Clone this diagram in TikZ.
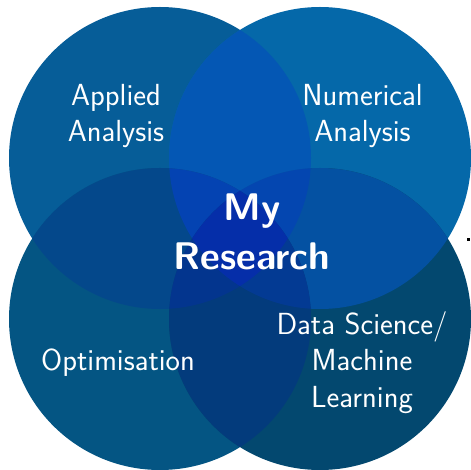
\documentclass[tikz,border=0pt]{standalone}
\renewcommand{\familydefault}{\sfdefault}
\definecolor{cA}{HTML}{065D98}
\definecolor{cB}{HTML}{0568A9}
\definecolor{cC}{HTML}{045583}
\definecolor{cD}{HTML}{03486F}
\definecolor{cAB}{HTML}{0457B4}
\definecolor{cAC}{HTML}{04488B}
\definecolor{cBD}{HTML}{0451A2}
\definecolor{cCD}{HTML}{033B7C}
\definecolor{cABC}{HTML}{0443B2}
\definecolor{cABD}{HTML}{0446B0}
\definecolor{cACD}{HTML}{03358E}
\definecolor{cBCD}{HTML}{033A93}
\definecolor{cABCD}{HTML}{052EA9}
\tikzset{
  lbl/.style={text=white, align=center, anchor=base, inner sep=0pt,
    font=\sffamily\fontsize{30.5}{36.5}\selectfont},
  big/.style={text=white, align=center, anchor=base, inner sep=0pt,
    font=\sffamily\fontsize{38.5}{49}\selectfont\bfseries},
}
\newcommand{\rr}{151}
\begin{document}
\begin{tikzpicture}[x=1pt,y=-1pt]
\useasboundingbox (0,0) rectangle (470,470);
\coordinate (A) at (160,158);
\coordinate (B) at (320,158);
\coordinate (C) at (160,319);
\coordinate (D) at (320,319);
% singles
\fill[cA] (A) circle[radius=\rr];
\fill[cB] (B) circle[radius=\rr];
\fill[cC] (C) circle[radius=\rr];
\fill[cD] (D) circle[radius=\rr];
% pairs
\begin{scope}\clip (A) circle[radius=\rr]; \fill[cAB] (B) circle[radius=\rr]; \fill[cAC] (C) circle[radius=\rr]; \end{scope}
\begin{scope}\clip (D) circle[radius=\rr]; \fill[cBD] (B) circle[radius=\rr]; \fill[cCD] (C) circle[radius=\rr]; \end{scope}
% triples
\begin{scope}\clip (A) circle[radius=\rr]; \clip (B) circle[radius=\rr]; \fill[cABC] (C) circle[radius=\rr]; \fill[cABD] (D) circle[radius=\rr]; \end{scope}
\begin{scope}\clip (C) circle[radius=\rr]; \clip (D) circle[radius=\rr]; \fill[cACD] (A) circle[radius=\rr]; \fill[cBCD] (B) circle[radius=\rr]; \end{scope}
% quadruple
\begin{scope}\clip (A) circle[radius=\rr]; \clip (B) circle[radius=\rr]; \clip (C) circle[radius=\rr]; \fill[cABCD] (D) circle[radius=\rr]; \end{scope}
% labels (base anchor = baseline of last line)
\node[lbl] (applied) at (116,142) {Applied\\Analysis};
\node[lbl] (numerical) at (362.5,142) {Numerical\\Analysis};
\node[lbl] (optim) at (118,370) {Optimisation};
\node[lbl] (data) at (362,407) {Data Science/\\Machine\\Learning};
\node[big] (my) at (252,269) {My\\Research};
\fill[black] (466.5,237.5) rectangle (469.5,240.5);
\end{tikzpicture}
\end{document}
